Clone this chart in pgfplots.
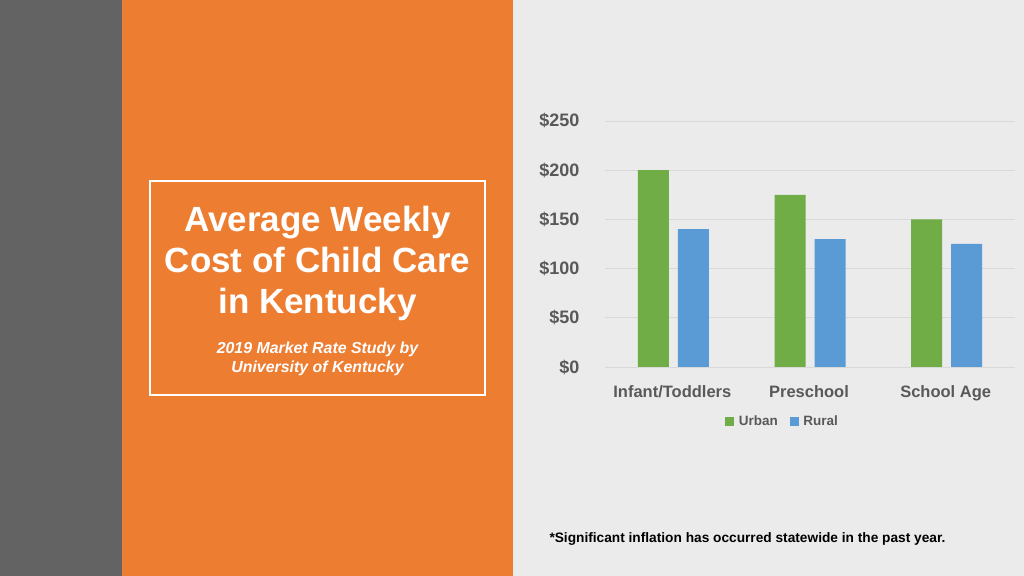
\documentclass[border=0pt]{standalone}
\usepackage{pgfplots}
\pgfplotsset{compat=1.18}
\usepackage{fontspec}
\setmainfont{Liberation Sans}
\definecolor{stripgrey}{RGB}{99,99,99}
\definecolor{panelorange}{RGB}{237,125,49}
\definecolor{bglight}{RGB}{235,235,235}
\definecolor{urbangreen}{RGB}{112,173,71}
\definecolor{ruralblue}{RGB}{91,155,213}
\definecolor{textgrey}{RGB}{89,89,89}
\definecolor{gridgrey}{RGB}{217,217,217}
\pgfplotstableread{
x urban rural
0 200 140
1 175 130
2 150 125
}\costdata
\begin{document}
\begin{tikzpicture}[x=1bp,y=1bp]
\fill[bglight] (0,0) rectangle (1024,576);
\fill[stripgrey] (0,0) rectangle (122,576);
\fill[panelorange] (122,0) rectangle (513,576);
\draw[white, line width=2bp] (150,181) rectangle (485,395);
\node[white, font=\fontsize{35bp}{41bp}\selectfont\bfseries, align=center] at (317.5,313) {Average Weekly\\Cost of Child Care\\in Kentucky};
\node[white, font=\fontsize{15.9bp}{19bp}\selectfont\bfseries\itshape, align=center] at (317.5,217) {2019 Market Rate Study by\\University of Kentucky};
\node[black, anchor=west, font=\fontsize{13.7bp}{16bp}\selectfont\bfseries] at (546,37) {*Significant inflation has occurred statewide in the past year.};
\begin{axis}[
  at={(605bp,209bp)}, anchor=south west,
  scale only axis, width=410bp, height=246bp,
  xmin=-0.5, xmax=2.5, ymin=0, ymax=250,
  ybar=9bp, bar width=31bp,
  xtick=data, xticklabels={Infant/Toddlers,Preschool,School Age},
  ytick={0,50,100,150,200,250},
  yticklabels={\$0,\$50,\$100,\$150,\$200,\$250},
  ymajorgrids, grid style={gridgrey, line width=0.8bp},
  axis line style={draw=none}, major tick style={draw=none},
  tick label style={textgrey, font=\fontsize{18bp}{20bp}\selectfont\bfseries},
  xticklabel style={font=\fontsize{16.5bp}{19bp}\selectfont\bfseries, yshift=-11bp, xshift=-1bp},
  yticklabel style={anchor=east, xshift=-22bp},
  legend style={at={(0.433,-0.223)}, anchor=center, draw=none, fill=none,
    legend columns=2, font=\fontsize{13.5bp}{15bp}\selectfont\bfseries, text=textgrey,
    /tikz/every even column/.append style={column sep=10bp},
    /tikz/every odd column/.append style={column sep=2.5bp}},
  legend image code/.code={\fill[#1] (0bp,-4.5bp) rectangle (9bp,4.5bp);},
  legend cell align=left,
]
\addplot[fill=urbangreen, draw=none] table[x=x, y=urban] {\costdata};
\addplot[fill=ruralblue, draw=none] table[x=x, y=rural] {\costdata};
\legend{Urban,Rural}
\end{axis}
\end{tikzpicture}
\end{document}
